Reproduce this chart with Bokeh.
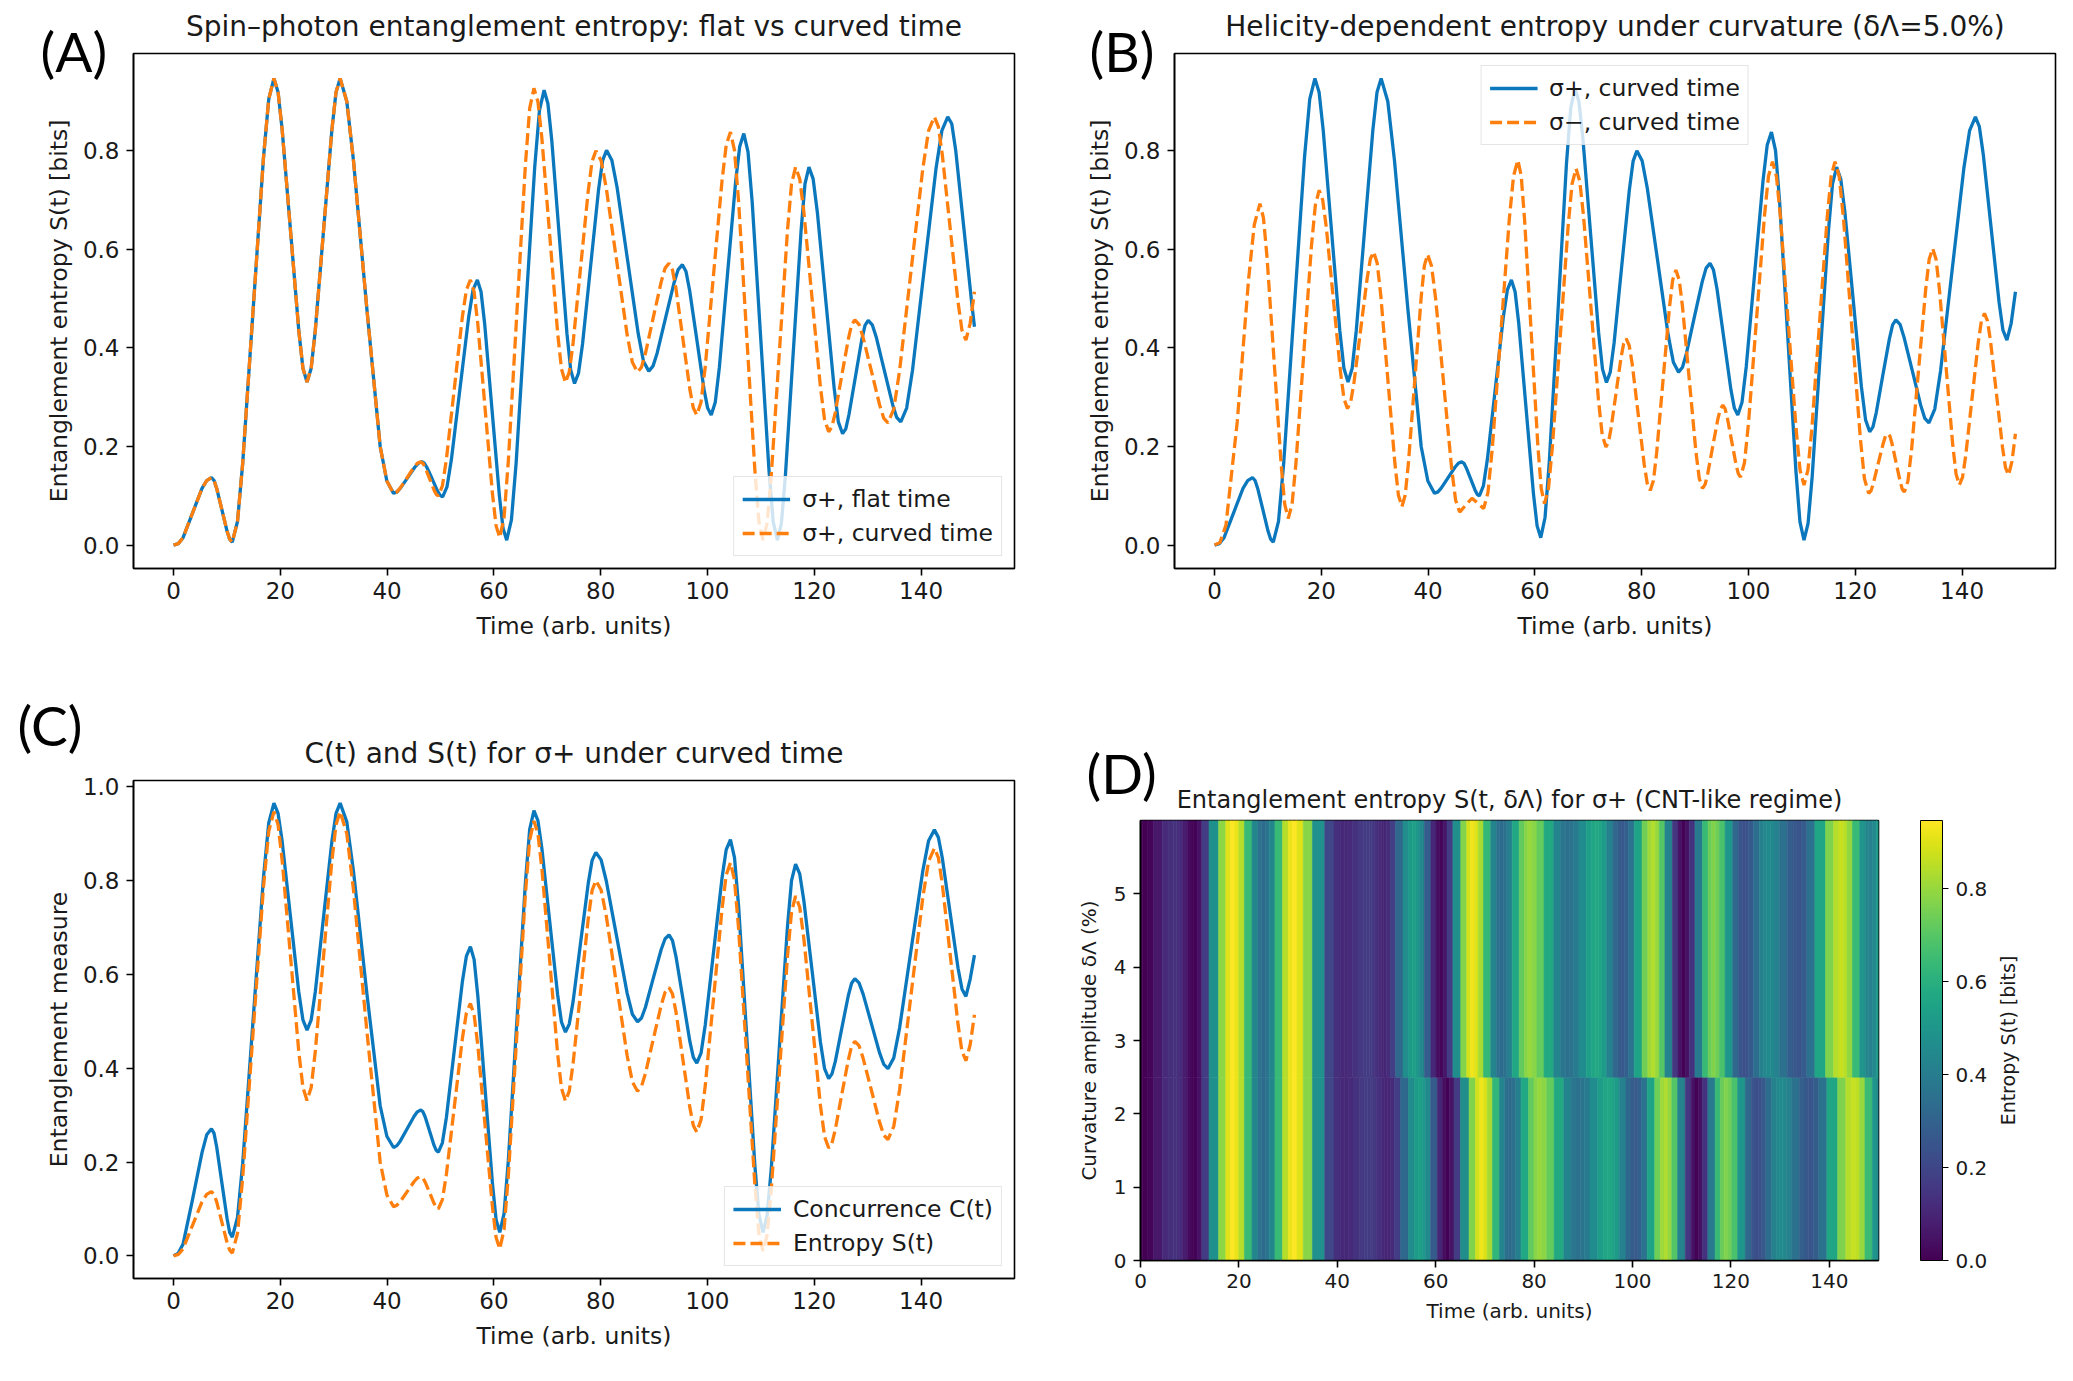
import numpy as np
from bokeh.plotting import figure
from bokeh.layouts import row, column
from bokeh.models import (Range1d, FixedTicker, PrintfTickFormatter, ColorBar,
                          LinearColorMapper, ColumnDataSource, Title)
from bokeh.palettes import Viridis256
from bokeh.transform import linear_cmap
from bokeh.embed import file_html
from bokeh.resources import INLINE

# ---- values (time in arb. units) ----
# sigma+ , flat time
t_flat = [0,
          0.89, 1.78, 3.55, 5.33, 6.21, 7.1,
          7.59, 8.08, 9.05, 10.03, 10.51, 11.0,
          11.98, 12.95, 14.9, 16.85, 17.83, 18.8,
          19.58, 20.35, 21.9, 23.45, 24.23, 25.0,
          25.78, 26.55, 28.1, 29.65, 30.43, 31.2,
          32.45, 33.7, 36.2, 38.7, 39.95, 41.2,
          41.86, 42.53, 43.85, 45.18, 45.84, 46.5,
          46.99, 47.48, 48.45, 49.43, 49.91, 50.4,
          51.21, 52.03, 53.65, 55.28, 56.09, 56.9,
          57.59, 58.28, 59.65, 61.03, 61.71, 62.4,
          63.28, 64.15, 65.9, 67.65, 68.53, 69.4,
          70.11, 70.83, 72.25, 73.68, 74.39, 75.1,
          75.85, 76.6, 78.1, 79.6, 80.35, 81.1,
          82.09, 83.08, 85.05, 87.03, 88.01, 89.0,
          89.79, 90.58, 92.15, 93.73, 94.51, 95.3,
          95.98, 96.65, 98.0, 99.35, 100.03, 100.7,
          101.46, 102.23, 103.75, 105.28, 106.04, 106.8,
          107.59, 108.38, 109.95, 111.53, 112.31, 113.1,
          113.84, 114.58, 116.05, 117.53, 118.26, 119.0,
          119.79, 120.58, 122.15, 123.73, 124.51, 125.3,
          125.9, 126.5, 127.7, 128.9, 129.5, 130.1,
          130.86, 131.63, 133.15, 134.68, 135.44, 136.2,
          137.3, 138.4, 140.6, 142.8, 143.9, 145.0,
          145.75, 146.5, 148.0, 149.5, 150.0]
s_flat = [0,
          0.003, 0.015, 0.065, 0.115, 0.131, 0.137,
          0.131, 0.115, 0.072, 0.028, 0.012, 0.006,
          0.048, 0.166, 0.477, 0.787, 0.905, 0.947,
          0.919, 0.842, 0.639, 0.436, 0.359, 0.331,
          0.359, 0.436, 0.639, 0.842, 0.919, 0.947,
          0.900, 0.780, 0.480, 0.200, 0.130, 0.105,
          0.108, 0.116, 0.137, 0.158, 0.166, 0.169,
          0.166, 0.157, 0.134, 0.110, 0.101, 0.098,
          0.118, 0.173, 0.318, 0.463, 0.518, 0.538,
          0.514, 0.448, 0.274, 0.100, 0.034, 0.010,
          0.051, 0.165, 0.467, 0.768, 0.882, 0.923,
          0.896, 0.822, 0.626, 0.429, 0.355, 0.328,
          0.349, 0.408, 0.565, 0.721, 0.780, 0.801,
          0.781, 0.725, 0.577, 0.429, 0.373, 0.353,
          0.363, 0.390, 0.461, 0.532, 0.559, 0.569,
          0.555, 0.517, 0.417, 0.316, 0.278, 0.264,
          0.290, 0.361, 0.550, 0.738, 0.809, 0.835,
          0.798, 0.695, 0.423, 0.150, 0.047, 0.010,
          0.044, 0.139, 0.389, 0.638, 0.733, 0.767,
          0.743, 0.675, 0.497, 0.318, 0.250, 0.226,
          0.236, 0.265, 0.341, 0.417, 0.446, 0.456,
          0.447, 0.421, 0.353, 0.285, 0.259, 0.250,
          0.278, 0.355, 0.560, 0.764, 0.841, 0.869,
          0.855, 0.800, 0.645, 0.490, 0.443]

# sigma+ , curved time (entropy and concurrence share the time points)
t_curved = [0,
            0.89, 1.78, 3.55, 5.33, 6.21, 7.1,
            7.59, 8.08, 9.05, 10.03, 10.51, 11.0,
            11.98, 12.95, 14.9, 16.85, 17.83, 18.8,
            19.58, 20.35, 21.9, 23.45, 24.23, 25.0,
            25.78, 26.55, 28.1, 29.65, 30.43, 31.2,
            32.45, 33.7, 36.2, 38.7, 39.95, 41.2,
            41.84, 42.48, 43.75, 45.03, 45.66, 46.3,
            46.71, 47.13, 47.95, 48.78, 49.19, 49.6,
            50.35, 51.1, 52.6, 54.1, 54.85, 55.6,
            56.29, 56.98, 58.35, 59.73, 60.41, 61.1,
            61.9, 62.7, 64.3, 65.9, 66.7, 67.5,
            68.24, 68.98, 70.45, 71.93, 72.66, 73.4,
            74.11, 74.83, 76.25, 77.68, 78.39, 79.1,
            80.08, 81.05, 83.0, 84.95, 85.93, 86.9,
            87.64, 88.38, 89.85, 91.33, 92.06, 92.8,
            93.45, 94.1, 95.4, 96.7, 97.35, 98.0,
            98.79, 99.58, 101.15, 102.73, 103.51, 104.3,
            105.06, 105.83, 107.35, 108.88, 109.64, 110.4,
            111.16, 111.93, 113.45, 114.98, 115.74, 116.5,
            117.28, 118.05, 119.6, 121.15, 121.93, 122.7,
            123.31, 123.93, 125.15, 126.38, 126.99, 127.6,
            128.38, 129.15, 130.7, 132.25, 133.03, 133.8,
            134.89, 135.98, 138.15, 140.33, 141.41, 142.5,
            143.24, 143.98, 145.45, 146.93, 147.66, 148.4,
            149.2, 150.0]
s_curved = [0,
            0.003, 0.015, 0.065, 0.115, 0.131, 0.137,
            0.131, 0.115, 0.072, 0.028, 0.012, 0.006,
            0.048, 0.166, 0.477, 0.787, 0.905, 0.947,
            0.919, 0.842, 0.639, 0.436, 0.359, 0.331,
            0.359, 0.436, 0.639, 0.842, 0.919, 0.947,
            0.900, 0.780, 0.480, 0.200, 0.130, 0.105,
            0.108, 0.116, 0.137, 0.158, 0.166, 0.169,
            0.166, 0.157, 0.135, 0.112, 0.103, 0.100,
            0.120, 0.174, 0.319, 0.464, 0.518, 0.538,
            0.514, 0.449, 0.277, 0.104, 0.039, 0.015,
            0.056, 0.170, 0.471, 0.772, 0.886, 0.927,
            0.900, 0.826, 0.629, 0.431, 0.357, 0.330,
            0.351, 0.410, 0.565, 0.720, 0.779, 0.800,
            0.780, 0.724, 0.576, 0.427, 0.371, 0.351,
            0.361, 0.389, 0.462, 0.534, 0.562, 0.572,
            0.558, 0.520, 0.418, 0.316, 0.278, 0.264,
            0.290, 0.362, 0.551, 0.740, 0.812, 0.838,
            0.801, 0.697, 0.424, 0.151, 0.047, 0.010,
            0.044, 0.139, 0.389, 0.638, 0.733, 0.767,
            0.743, 0.676, 0.499, 0.321, 0.254, 0.230,
            0.240, 0.269, 0.344, 0.418, 0.447, 0.457,
            0.448, 0.421, 0.353, 0.284, 0.257, 0.248,
            0.276, 0.354, 0.559, 0.764, 0.841, 0.869,
            0.849, 0.792, 0.643, 0.493, 0.436, 0.416,
            0.450, 0.514]
c_curved = [0,
            0.006, 0.025, 0.120, 0.220, 0.258, 0.271,
            0.261, 0.232, 0.156, 0.079, 0.050, 0.040,
            0.082, 0.197, 0.503, 0.808, 0.923, 0.965,
            0.943, 0.883, 0.723, 0.563, 0.503, 0.481,
            0.503, 0.563, 0.723, 0.883, 0.943, 0.965,
            0.925, 0.820, 0.560, 0.320, 0.255, 0.231,
            0.235, 0.245, 0.271, 0.297, 0.307, 0.311,
            0.307, 0.296, 0.266, 0.236, 0.225, 0.221,
            0.241, 0.295, 0.440, 0.585, 0.639, 0.659,
            0.632, 0.555, 0.355, 0.154, 0.077, 0.050,
            0.090, 0.203, 0.500, 0.796, 0.909, 0.949,
            0.928, 0.869, 0.713, 0.557, 0.498, 0.477,
            0.494, 0.542, 0.669, 0.795, 0.843, 0.860,
            0.844, 0.799, 0.680, 0.560, 0.515, 0.499,
            0.507, 0.530, 0.592, 0.653, 0.676, 0.684,
            0.672, 0.638, 0.548, 0.457, 0.423, 0.411,
            0.432, 0.492, 0.649, 0.806, 0.866, 0.887,
            0.849, 0.745, 0.469, 0.192, 0.088, 0.050,
            0.085, 0.183, 0.443, 0.702, 0.800, 0.835,
            0.814, 0.757, 0.607, 0.456, 0.399, 0.378,
            0.388, 0.414, 0.485, 0.555, 0.581, 0.591,
            0.582, 0.558, 0.495, 0.432, 0.408, 0.399,
            0.422, 0.486, 0.654, 0.821, 0.885, 0.908,
            0.892, 0.848, 0.731, 0.613, 0.569, 0.553,
            0.590, 0.641]

# sigma- , curved time
t_minus = [0,
           1.0, 2.13, 4.25, 6.38, 7.44, 8.5,
           9.16, 9.83, 11.15, 12.48, 13.14, 13.8,
           14.53, 15.25, 16.7, 18.15, 18.88, 19.6,
           20.26, 20.93, 22.25, 23.58, 24.24, 24.9,
           25.51, 26.13, 27.35, 28.58, 29.19, 29.8,
           30.46, 31.13, 32.45, 33.78, 34.44, 35.1,
           35.7, 36.3, 37.5, 38.7, 39.3, 39.9,
           40.65, 41.4, 42.9, 44.4, 45.15, 45.9,
           47.05, 48.2,
           49.3, 50.4,
           51.2, 52.0, 53.6, 55.2, 56.0, 56.8,
           57.43, 58.05, 59.3, 60.55, 61.18, 61.8,
           62.54, 63.28, 64.75, 66.23, 66.96, 67.7,
           68.4, 69.1, 70.5, 71.9, 72.6, 73.3,
           73.78, 74.25, 75.2, 76.15, 76.63, 77.1,
           77.66, 78.23, 79.35, 80.48, 81.04, 81.6,
           82.2, 82.8, 84.0, 85.2, 85.8, 86.4,
           87.03, 87.65, 88.9, 90.15, 90.78, 91.4,
           91.88, 92.35, 93.3, 94.25, 94.73, 95.2,
           95.61, 96.03, 96.85, 97.68, 98.09, 98.5,
           99.25, 100.0, 101.5, 103.0, 103.75, 104.5,
           105.24, 105.98, 107.45, 108.93, 109.66, 110.4,
           111.13, 111.85, 113.3, 114.75, 115.48, 116.2,
           116.99, 117.78, 119.35, 120.93, 121.71, 122.5,
           122.95, 123.4, 124.3, 125.2, 125.65, 126.1,
           126.49, 126.88, 127.65, 128.43, 128.81, 129.2,
           129.86, 130.53, 131.85, 133.18, 133.84, 134.5,
           135.13, 135.75, 137.0, 138.25, 138.88, 139.5,
           140.09, 140.68, 141.85, 143.03, 143.61, 144.2,
           144.76, 145.33, 146.45, 147.58, 148.14, 148.7,
           149.35, 150.0]
s_minus = [0,
           0.005, 0.040, 0.250, 0.540, 0.650, 0.693,
           0.664, 0.584, 0.374, 0.163, 0.083, 0.054,
           0.084, 0.167, 0.387, 0.607, 0.690, 0.720,
           0.700, 0.645, 0.499, 0.352, 0.297, 0.277,
           0.291, 0.331, 0.436, 0.541, 0.581, 0.595,
           0.572, 0.507, 0.337, 0.166, 0.101, 0.078,
           0.101, 0.165, 0.334, 0.503, 0.567, 0.590,
           0.566, 0.501, 0.329, 0.156, 0.091, 0.067,
           0.081, 0.095,
           0.085, 0.074,
           0.106, 0.194, 0.428, 0.661, 0.749, 0.781,
           0.750, 0.663, 0.433, 0.202, 0.115, 0.084,
           0.115, 0.200, 0.424, 0.648, 0.733, 0.764,
           0.739, 0.668, 0.482, 0.295, 0.224, 0.199,
           0.209, 0.236, 0.309, 0.382, 0.409, 0.419,
           0.405, 0.367, 0.265, 0.163, 0.125, 0.111,
           0.131, 0.187, 0.335, 0.482, 0.538, 0.558,
           0.538, 0.483, 0.337, 0.190, 0.135, 0.115,
           0.123, 0.144, 0.200, 0.255, 0.276, 0.284,
           0.277, 0.259, 0.211, 0.163, 0.145, 0.138,
           0.167, 0.247, 0.458, 0.669, 0.749, 0.778,
           0.748, 0.666, 0.450, 0.234, 0.152, 0.122,
           0.152, 0.234, 0.450, 0.666, 0.748, 0.778,
           0.748, 0.664, 0.442, 0.219, 0.135, 0.105,
           0.110, 0.126, 0.166, 0.205, 0.221, 0.226,
           0.221, 0.206, 0.167, 0.128, 0.113, 0.108,
           0.130, 0.192, 0.355, 0.518, 0.580, 0.602,
           0.580, 0.520, 0.362, 0.204, 0.144, 0.122,
           0.138, 0.181, 0.296, 0.411, 0.454, 0.470,
           0.455, 0.414, 0.306, 0.198, 0.157, 0.142,
           0.170, 0.226]

# curvature amplitudes (%) whose S(t) rows fill the map in panel D
delta_rows = [0.0, 5.0]
delta_top = 6.0

time_ticks = [0, 20, 40, 60, 80, 100, 120, 140]
s_ticks = [0.0, 0.2, 0.4, 0.6, 0.8]
c_ticks = [0.0, 0.2, 0.4, 0.6, 0.8, 1.0]
delta_ticks = [0, 1, 2, 3, 4, 5]

FONT = "DejaVu Sans"
TAG_FONT = "Lato"
BLUE = "#0b78bd"
ORANGE = "#ff7f0e"
INK = "#1a1a1a"


def make_fig(w, h, left, right, top, bottom, xr, yr, tick_px, label_px):
    p = figure(width=w, height=h, x_range=xr, y_range=yr, output_backend="svg",
               toolbar_location=None, min_border_left=left, min_border_right=right,
               min_border_top=top, min_border_bottom=bottom)
    if "frame_align" in p.properties():
        p.frame_align = False
    p.grid.visible = False
    p.outline_line_color = "black"
    p.outline_line_width = 1.6
    p.background_fill_color = "white"
    p.border_fill_color = "white"
    for ax in (p.xaxis[0], p.yaxis[0]):
        ax.axis_line_width = 1.6
        ax.major_tick_line_width = 1.6
        ax.major_tick_out = 7
        ax.major_tick_in = 0
        ax.minor_tick_line_color = None
        ax.major_label_text_font = FONT
        ax.major_label_text_font_size = tick_px
        ax.major_label_text_color = INK
        ax.axis_label_text_font = FONT
        ax.axis_label_text_font_size = label_px
        ax.axis_label_text_font_style = "normal"
        ax.axis_label_text_color = INK
    p.xaxis.major_label_standoff = 6
    p.xaxis.axis_label_standoff = 10
    p.yaxis.major_label_standoff = 7
    p.yaxis.axis_label_standoff = 7
    p.xaxis.ticker = FixedTicker(ticks=time_ticks)
    return p


def heading(text, px, standoff):
    return Title(text=text, align="center", standoff=standoff, text_font=FONT,
                 text_font_size=px, text_font_style="normal", text_color=INK)


def tag(text, offset, standoff):
    return Title(text=text, align="left", offset=offset, standoff=standoff,
                 text_font=TAG_FONT, text_font_size="55px", text_font_style="normal",
                 text_color="black")


def style_legend(p, loc):
    lg = p.legend[0]
    lg.location = loc
    lg.label_text_font = FONT
    lg.label_text_font_size = "23.5px"
    lg.label_text_color = INK
    lg.glyph_width = 48
    lg.glyph_height = 28
    lg.label_height = 28
    lg.label_standoff = 12
    lg.padding = 8
    lg.spacing = 6
    lg.margin = 12
    lg.border_line_color = "#cccccc"
    lg.border_line_width = 1.2
    lg.background_fill_alpha = 0.8


s_lo, s_hi = -0.0475, 0.9975

# (A) flat vs curved time
pA = make_fig(1044, 684, 133, 30, 53, 116, Range1d(-7.5, 157.5), Range1d(s_lo, s_hi), "23px", "23.5px")
pA.line(t_flat, s_flat, color=BLUE, line_width=3.3, legend_label="σ+, flat time")
pA.line(t_curved, s_curved, color=ORANGE, line_width=3.3, line_dash="12 5",
        legend_label="σ+, curved time")
pA.add_layout(tag("(A)", -93, -60), "above")
pA.add_layout(heading("Spin–photon entanglement entropy: flat vs curved time", "28px", 6), "above")
pA.yaxis.ticker = FixedTicker(ticks=s_ticks)
pA.yaxis.formatter = PrintfTickFormatter(format="%.1f")
pA.xaxis.axis_label = "Time (arb. units)"
pA.yaxis.axis_label = "Entanglement entropy S(t) [bits]"
style_legend(pA, "bottom_right")

# (B) helicity dependence
pB = make_fig(1025, 684, 130, 14, 53, 116, Range1d(-7.5, 157.5), Range1d(s_lo, s_hi), "23px", "23.5px")
pB.line(t_curved, s_curved, color=BLUE, line_width=3.3, legend_label="σ+, curved time")
pB.line(t_minus, s_minus, color=ORANGE, line_width=3.3, line_dash="12 5",
        legend_label="σ−, curved time")
pB.add_layout(tag("(B)", -85, -60), "above")
pB.add_layout(heading("Helicity-dependent entropy under curvature (δΛ=5.0%)", "28px", 6), "above")
pB.yaxis.ticker = FixedTicker(ticks=s_ticks)
pB.yaxis.formatter = PrintfTickFormatter(format="%.1f")
pB.xaxis.axis_label = "Time (arb. units)"
pB.yaxis.axis_label = "Entanglement entropy S(t) [bits]"
style_legend(pB, "top_center")

# (C) concurrence and entropy
c_pad = 0.05 * max(c_curved)
pC = make_fig(1044, 694, 133, 30, 96, 100, Range1d(-7.5, 157.5),
              Range1d(-c_pad, max(c_curved) + c_pad), "23px", "23.5px")
pC.line(t_curved, c_curved, color=BLUE, line_width=3.3, legend_label="Concurrence C(t)")
pC.line(t_curved, s_curved, color=ORANGE, line_width=3.3, line_dash="12 5",
        legend_label="Entropy S(t)")
pC.add_layout(heading("C(t) and S(t) for σ+ under curved time", "28px", 22), "above")
pC.add_layout(tag("(C)", -116, -68), "above")
pC.yaxis.ticker = FixedTicker(ticks=c_ticks)
pC.yaxis.formatter = PrintfTickFormatter(format="%.1f")
pC.xaxis.axis_label = "Time (arb. units)"
pC.yaxis.axis_label = "Entanglement measure"
style_legend(pC, "bottom_right")

# (D) S(t, delta) map
s_max = max(max(s_flat), max(s_curved))
pD = make_fig(950, 694, 96, 116, 136, 118, Range1d(0, 150), Range1d(0, delta_top), "20px", "20px")
cells = dict(left=[], right=[], bottom=[], top=[], s=[])
bounds = [0.0, (delta_rows[0] + delta_rows[1]) / 2, delta_top]
for k, (tt, ss) in enumerate([(t_flat, s_flat), (t_curved, s_curved)]):
    tt = np.asarray(tt, float)
    mid = (tt[1:] + tt[:-1]) / 2
    cells["left"] += list(np.r_[tt[0], mid])
    cells["right"] += list(np.r_[mid, tt[-1]])
    cells["bottom"] += [bounds[k]] * len(tt)
    cells["top"] += [bounds[k + 1]] * len(tt)
    cells["s"] += list(ss)
src = ColumnDataSource(cells)
cmap = linear_cmap("s", Viridis256, 0.0, s_max)
pD.quad(left="left", right="right", bottom="bottom", top="top", source=src,
        fill_color=cmap, line_color=cmap, line_width=0.6)
pD.add_layout(heading("Entanglement entropy S(t, δΛ) for σ+ (CNT-like regime)", "24px", 14), "above")
pD.add_layout(tag("(D)", -54, -58), "above")
pD.yaxis.ticker = FixedTicker(ticks=delta_ticks)
pD.xaxis.axis_label = "Time (arb. units)"
pD.yaxis.axis_label = "Curvature amplitude δΛ (%)"
pD.xaxis.axis_label_standoff = 8
pD.yaxis.axis_label_standoff = 10

mapper = LinearColorMapper(palette=Viridis256, low=0.0, high=s_max)
cb = ColorBar(color_mapper=mapper, width=22, height=440, padding=0, margin=0,
              location=(42, 0), ticker=FixedTicker(ticks=s_ticks),
              formatter=PrintfTickFormatter(format="%.1f"),
              major_label_text_font=FONT, major_label_text_font_size="20px",
              major_label_text_color=INK,
              major_tick_line_color="black", major_tick_in=0, major_tick_out=6,
              minor_tick_line_color=None, bar_line_color="black", bar_line_width=1,
              label_standoff=7, background_fill_alpha=0, border_line_color=None)
pD.add_layout(cb, "right")

# colour-bar caption: a left-side title of a narrow companion plot (reads upwards)
pL = figure(width=60, height=694, output_backend="svg", toolbar_location=None,
            x_axis_location=None, y_axis_location=None, min_border_left=22,
            min_border_right=0, min_border_top=136, min_border_bottom=118)
if "frame_align" in pL.properties():
    pL.frame_align = False
pL.grid.visible = False
pL.outline_line_color = None
pL.border_fill_color = "white"
pL.background_fill_color = "white"
pL.add_layout(Title(text="Entropy S(t) [bits]", align="center", standoff=0, text_font=FONT,
                    text_font_size="19px", text_font_style="normal", text_color=INK), "left")

layout = column(row(pA, pB), row(pC, pD, pL))
open("out.html", "w").write(file_html(layout, INLINE))
